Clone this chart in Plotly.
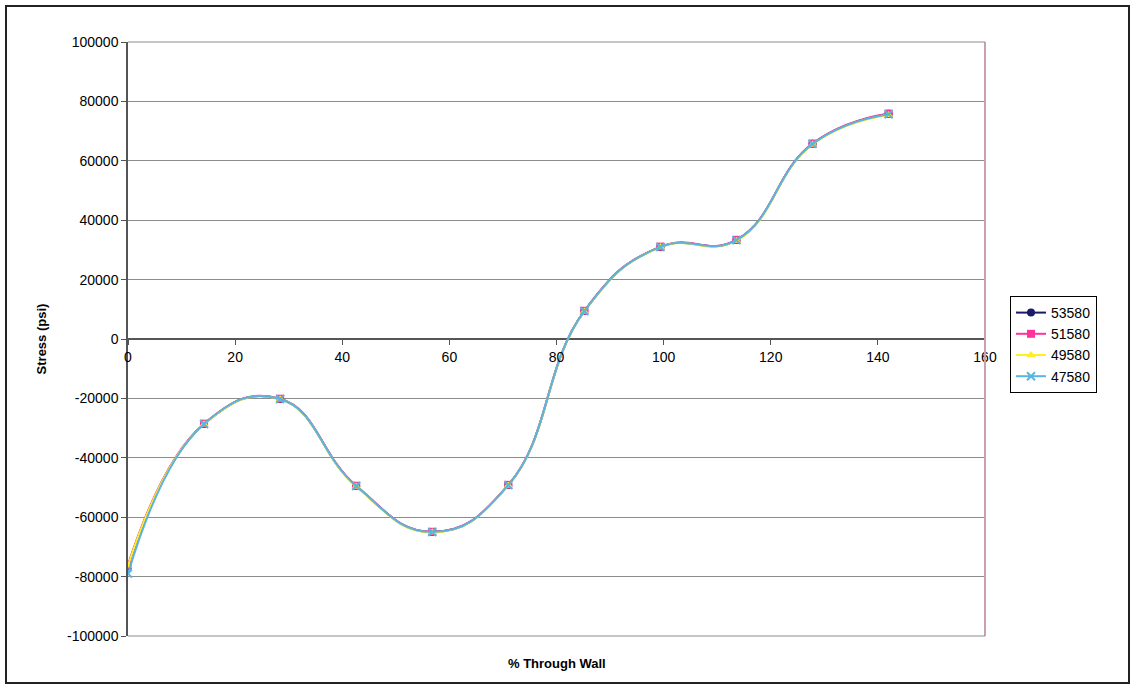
import plotly.graph_objects as go

x_vals = [0, 14.2, 28.4, 42.6, 56.8, 71.0, 85.2, 99.4, 113.6, 127.8, 142.0]
s53580 = [-76500, -28600, -20200, -49500, -65000, -49200, 9400, 31000, 33300, 65700, 75800]
s51580 = [-76000, -28500, -20100, -49400, -64900, -49100, 9500, 31100, 33400, 65800, 75900]
s49580 = [-76300, -28700, -20300, -49700, -65100, -49300, 9300, 30900, 33100, 65500, 75400]
s47580 = [-79000, -28600, -20200, -49500, -65000, -49200, 9400, 31000, 33300, 65700, 75700]

y_ticks = [-100000, -80000, -60000, -40000, -20000, 0, 20000, 40000, 60000, 80000, 100000]
y_ticktext = ["-100000", "-80000", "-60000", "-40000", "-20000", "0",
              "20000", "40000", "60000", "80000", "100000"]

series = [
    ("53580", s53580, "#1a1a66", "circle"),
    ("51580", s51580, "#ff3399", "square"),
    ("49580", s49580, "#ffee22", "triangle-up"),
    ("47580", s47580, "#5ab4e0", "x-thin-open"),
]

fig = go.Figure()
for name, ys, col, sym in series:
    mk = dict(color=col, size=8, symbol=sym)
    if sym == "x-thin-open":
        mk = dict(color=col, size=8, symbol=sym, line=dict(color=col, width=2))
    fig.add_trace(go.Scatter(
        x=x_vals, y=ys, name=name, mode="lines+markers",
        line=dict(color=col, width=2, shape="spline", smoothing=1.3),
        marker=mk,
    ))

L, R, T, B = 128, 985, 42, 636
W, H = 1132, 685
def px(x):
    return (x - L) / (R - L)
def py(y):
    return (B - y) / (B - T)

fig.update_layout(
    width=W, height=H,
    margin=dict(l=L, r=W - R, t=T, b=H - B),
    paper_bgcolor="white", plot_bgcolor="white",
    font=dict(family="Liberation Sans, Arial, sans-serif", size=14, color="black"),
    showlegend=True,
    legend=dict(x=px(1010), y=py(296), xanchor="left", yanchor="top",
                bordercolor="black", borderwidth=1, bgcolor="white",
                font=dict(size=14), tracegroupgap=0, itemwidth=30),
    xaxis=dict(range=[0, 160], dtick=20, tick0=0, showgrid=False, zeroline=False,
               showline=False, ticks="outside", ticklen=5, tickcolor="#555",
               anchor="free", position=0.5, title=None),
    yaxis=dict(range=[-100000, 100000], tickvals=y_ticks, ticktext=y_ticktext,
               showgrid=True, gridcolor="#8c8c8c",
               gridwidth=1, zeroline=True, zerolinecolor="#555", zerolinewidth=1.5,
               showline=True, linecolor="#555", linewidth=1.5, ticks="outside",
               ticklen=5, tickcolor="#555",
               title=dict(text="<b>Stress (psi)</b>", font=dict(size=13), standoff=18)),
    shapes=[
        dict(type="rect", xref="paper", yref="paper", x0=px(6), x1=px(1129),
             y0=py(683), y1=py(6), line=dict(color="#222", width=2), fillcolor="rgba(0,0,0,0)"),
        dict(type="line", xref="paper", yref="paper", x0=1, x1=1, y0=0, y1=1,
             line=dict(color="#c9a0b0", width=2)),
        dict(type="line", xref="paper", yref="paper", x0=0, x1=1, y0=0, y1=0,
             line=dict(color="#8c8c8c", width=1)),
        dict(type="line", xref="paper", yref="paper", x0=0, x1=1, y0=1, y1=1,
             line=dict(color="#8c8c8c", width=1)),
    ],
)

fig.add_annotation(text="<b>% Through Wall</b>", xref="paper", yref="paper",
                   x=0.5, y=py(663), showarrow=False, font=dict(size=13), yanchor="middle")

fig.write_html("out.html")
